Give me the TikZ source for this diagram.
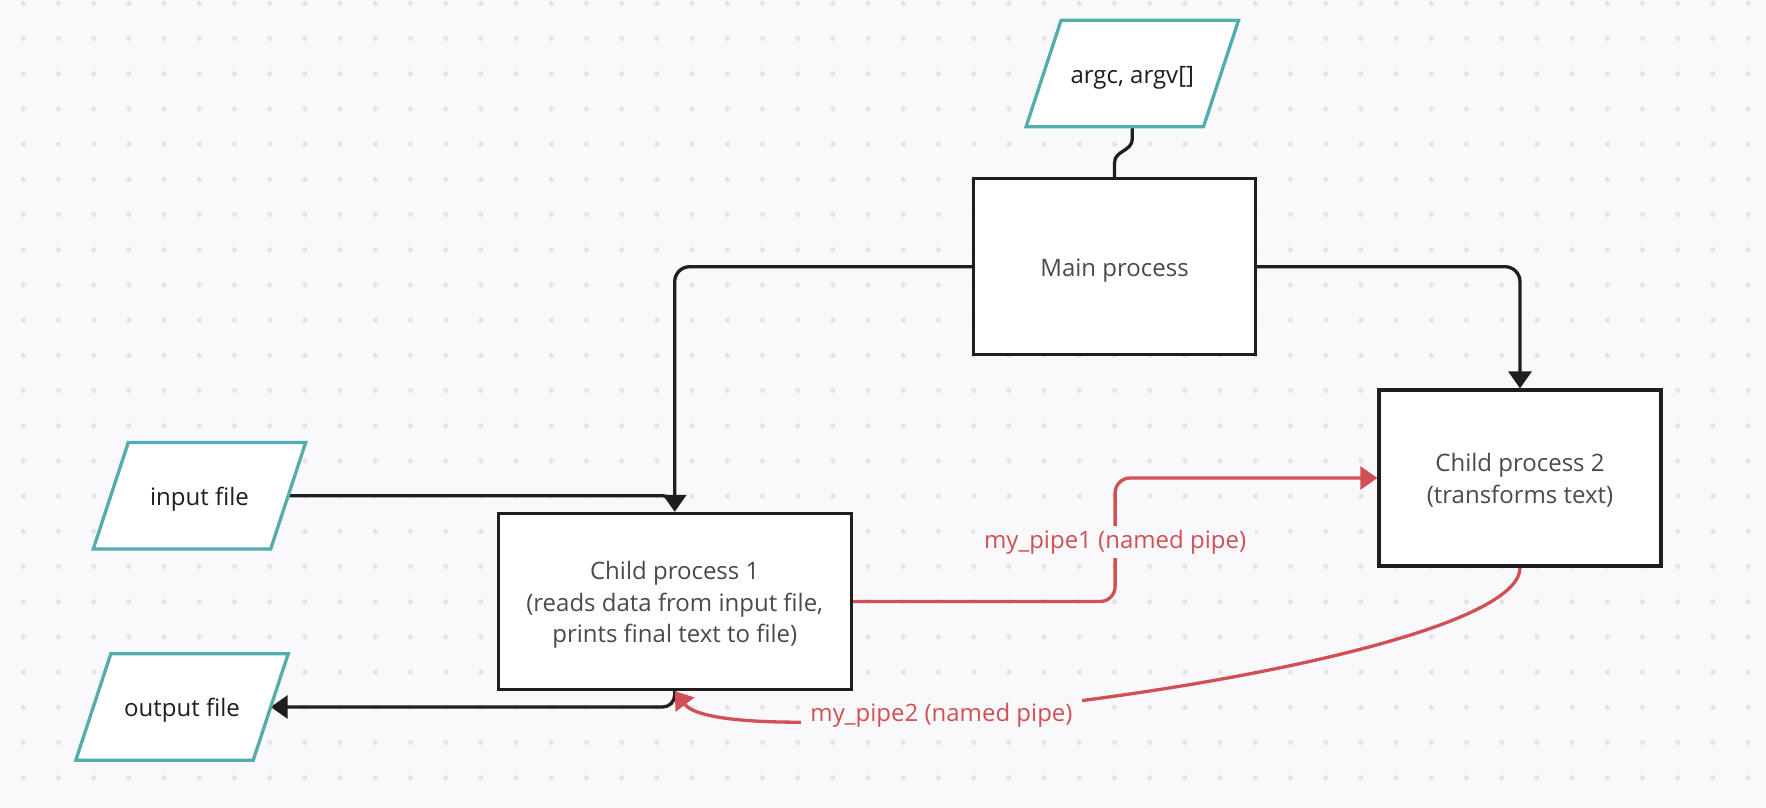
\documentclass[tikz,border=0pt]{standalone}
\usepackage{fontspec}
\setmainfont{Open Sans}
\usetikzlibrary{arrows.meta,calc}
\definecolor{bgc}{HTML}{F9F9FB}
\definecolor{dotc}{HTML}{E3E3E8}
\definecolor{teal2}{HTML}{52ADAC}
\definecolor{pipered}{HTML}{D05054}
\definecolor{ink}{HTML}{1E1E1E}
\definecolor{boxtext}{HTML}{4A4A4A}
\pgfdeclarelayer{back}
\pgfdeclarelayer{lines}
\pgfdeclarelayer{shapes}
\pgfsetlayers{back,lines,shapes,main}
\tikzset{
  txt/.style={font=\fontsize{24pt}{31.5pt}\selectfont},
  oneline/.style={text height=21.5pt, text depth=2.5pt},
  twolines/.style={text height=53pt, text depth=2.5pt},
  threelines/.style={text height=84.5pt, text depth=2.5pt},
  procbox/.style={txt, draw=ink, line width=3.3pt, fill=white, minimum width=282pt, minimum height=176pt, inner sep=0pt, align=center, text=boxtext},
  iobox/.style={txt, oneline, minimum width=177pt, minimum height=106pt, inner sep=0pt, text=ink},
  iofr/.style={draw=teal2, line width=3.3pt, fill=white, line join=miter},
  blk/.style={draw=ink, line width=3.3pt},
  pipe/.style={draw=pipered, line width=3.3pt},
  pipelabel/.style={txt, fill=bgc, text=pipered, inner xsep=9pt, inner ysep=4pt},
}
\begin{document}
\begin{tikzpicture}[x=1pt,y=-1pt,>={Triangle[length=17pt,width=23pt]}]
\useasboundingbox (0,0) rectangle (1766,808);
\begin{pgfonlayer}{back}
  \fill[bgc] (0,0) rectangle (1766,808);
  \foreach \i in {0,...,49} {
    \foreach \j in {0,...,22} {
      \fill[dotc] (23.3+35.2*\i, 3.3+35.2*\j) circle (2.5pt);
    }
  }
\end{pgfonlayer}

% process boxes
\node[procbox, oneline] (main) at (1114.5,266.7) {Main process};
\node[procbox, threelines, minimum width=353pt] (child1) at (674.7,601.5) {Child process 1\\(reads data from input file,\\prints final text to file)};
\node[procbox, twolines] (child2) at (1520,478) {Child process 2\\(transforms text)};

% data (parallelogram) nodes
\node[iobox] (argc) at (1132.3,73.5) {argc, argv[]};
\node[iobox] (input) at (199.5,495.7) {input file};
\node[iobox] (output) at (182,707) {output file};

\begin{pgfonlayer}{shapes}
  \foreach \n in {argc,input,output} {
    \draw[iofr] ([xshift=17.5pt]\n.north west) -- ([xshift=17.5pt]\n.north east)
      -- ([xshift=-17.5pt]\n.south east) -- ([xshift=-17.5pt]\n.south west) -- cycle;
  }
\end{pgfonlayer}

\coordinate (p1) at ($(child1.east)!0.5!(child2.west)$);
\coordinate (p2) at (941.5,715);

\begin{pgfonlayer}{lines}
  % argc -> main (S curve)
  \draw[blk] (argc.south) -- ([yshift=-12pt]argc.south)
    .. controls ([yshift=-25pt]argc.south) and ([yshift=27pt]main.north) .. ([yshift=14pt]main.north)
    -- (main.north);
  % main -> child processes
  \draw[blk, rounded corners=15pt, ->] (main.west) -| (child1.north);
  \draw[blk, rounded corners=15pt, ->] (main.east) -| (child2.north);
  % input file -> child1
  \draw[blk, rounded corners=12pt] (input.east) -| ([yshift=5pt]child1.north);
  % child1 -> output file
  \draw[blk, rounded corners=12pt, ->] (child1.south) |- (output.east);
  % named pipes
  \draw[pipe, rounded corners=15pt, ->] (child1.east) -| (p1) |- (child2.west);
  \draw[pipe, ->] (child2.south) .. controls ([yshift=-100pt]child2.south) and ([shift={(55pt,-72pt)}]child1.south) .. (child1.south);
\end{pgfonlayer}

\node[pipelabel] (l1) at ([yshift=-2.5pt]p1) {my\_pipe1 (named pipe)};
\node[pipelabel] (l2) at (p2) {my\_pipe2 (named pipe)};
\end{tikzpicture}
\end{document}
